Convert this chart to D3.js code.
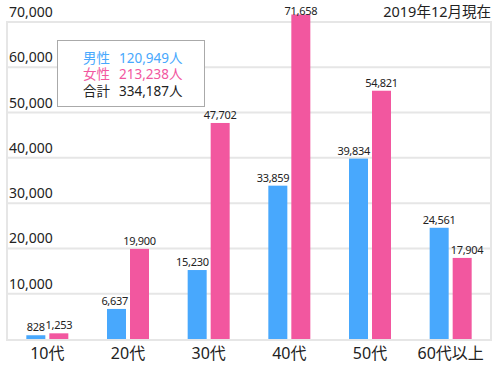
<!DOCTYPE html>
<html><head><meta charset="utf-8">
<script src="https://cdn.jsdelivr.net/npm/d3@7"></script>
<style>body{margin:0;background:#fff}svg{display:block}text{font-family:"Noto Sans","Noto Sans CJK JP",sans-serif}</style>
</head><body><svg id="c" width="500" height="370"></svg>
<script>
const categories = ["10代","20代","30代","40代","50代","60代以上"];
const male = [828, 6637, 15230, 33859, 39834, 24561];
const female = [1253, 19900, 47702, 71658, 54821, 17904];
const yTicks = [10000,20000,30000,40000,50000,60000,70000];
const legendLabels = ["男性","女性","合計"];
const legendValues = ["120,949人","213,238人","334,187人"];
const note = "2019年12月現在";

const blue = "#48a8fd", pink = "#f2579f";
const svg = d3.select("#c");
const L = 7, R = 491, T = 22, B = 339;
const x = d3.scaleBand().domain(categories).range([L, R]);
const y = d3.scaleLinear().domain([0, 70000]).range([B, T]);
const fmt = d3.format(",");

// grid
const gc = "#e6e6e6";
svg.append("g").selectAll("line").data(yTicks).join("line")
  .attr("x1", L).attr("x2", R).attr("y1", d => y(d)).attr("y2", d => y(d))
  .attr("stroke", gc).attr("stroke-width", 2);
svg.append("line").attr("x1", L).attr("x2", L).attr("y1", T-1).attr("y2", B+2).attr("stroke", gc).attr("stroke-width", 2);
svg.append("line").attr("x1", R).attr("x2", R).attr("y1", T-1).attr("y2", B+2).attr("stroke", gc).attr("stroke-width", 2);
svg.append("line").attr("x1", L).attr("x2", R).attr("y1", B+1).attr("y2", B+1).attr("stroke", gc).attr("stroke-width", 2);

svg.append("g").selectAll("text").data(yTicks).join("text")
  .attr("x", 9).attr("y", d => y(d) - 5).attr("font-size", 14).attr("fill", "#222")
  .text(d => fmt(d));

const bw = 19, gap = 4;
const bars = svg.append("g");
const labels = svg.append("g");
const ly = v => Math.max(y(v) - 4, 14.5);
categories.forEach((c, i) => {
  const cx = x(c) + x.bandwidth()/2;
  const bxM = cx - gap/2 - bw, bxF = cx + gap/2;
  bars.append("rect").attr("x", bxM).attr("width", bw).attr("y", y(male[i])).attr("height", B - y(male[i])).attr("fill", blue);
  bars.append("rect").attr("x", bxF).attr("width", bw).attr("y", y(female[i])).attr("height", B - y(female[i])).attr("fill", pink);
  const tm = labels.append("text").attr("y", ly(male[i])).attr("text-anchor", "middle")
    .attr("font-size", 11).attr("letter-spacing", -0.3).attr("fill", "#222").text(fmt(male[i]));
  const wm = tm.node().getComputedTextLength();
  let xm = bxM + bw/2;
  if (y(female[i]) < y(male[i]) - 4 && xm + wm/2 > bxF - 2) xm = bxF - 2 - wm/2;
  tm.attr("x", xm);
  const tf = labels.append("text").attr("y", ly(female[i])).attr("text-anchor", "middle")
    .attr("font-size", 11).attr("letter-spacing", -0.3).attr("fill", "#222").text(fmt(female[i]));
  const wf = tf.node().getComputedTextLength();
  let xf = bxF + bw/2;
  if (y(male[i]) < y(female[i]) - 4 && xf - wf/2 < bxM + bw + 2) xf = bxM + bw + 2 + wf/2;
  tf.attr("x", xf);
});

svg.append("g").selectAll("text").data(categories).join("text")
  .attr("x", d => x(d) + x.bandwidth()/2).attr("y", 359)
  .attr("text-anchor", "middle").attr("font-size", 16).attr("fill", "#222")
  .text(d => d);

// legend
svg.append("rect").attr("x", 57.5).attr("y", 40.5).attr("width", 147).attr("height", 66)
  .attr("fill", "#fff").attr("stroke", "#aaa");
const lc = [blue, pink, "#222"];
legendLabels.forEach((t, i) => {
  svg.append("text").attr("x", 83).attr("y", 62.5 + i*16.7).attr("font-size", 13.5).attr("fill", lc[i]).text(t);
  svg.append("text").attr("x", 119).attr("y", 62.5 + i*16.7).attr("font-size", 13.5).attr("fill", lc[i]).text(legendValues[i]);
});

svg.append("text").attr("x", 491).attr("y", 17).attr("text-anchor", "end").attr("font-size", 14.5).attr("fill", "#222").text(note);
</script></body></html>
